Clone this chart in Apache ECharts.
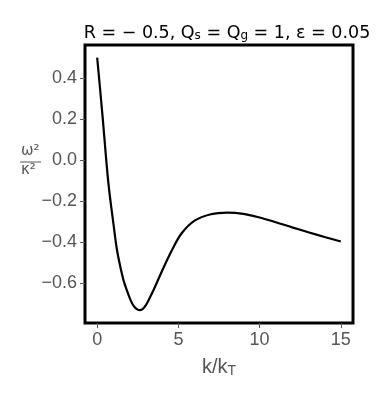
<!DOCTYPE html>
<html>
<head>
<meta charset="utf-8">
<script src="https://cdn.jsdelivr.net/npm/echarts@6/dist/echarts.min.js"></script>
<style>
html,body{margin:0;padding:0;background:#fff;}
#chart{width:379px;height:400px;}
</style>
</head>
<body>
<div id="chart"></div>
<script>
var kValues = [0, 0.33, 0.68, 1.0, 1.21, 1.45, 1.66, 2.0, 2.2, 2.4, 2.6, 2.8, 3.0, 3.2, 3.5, 4.0, 4.6, 5.2, 6.0, 7.0, 8.0, 9.0, 10.0, 11.0, 12.0, 13.0, 14.0, 15.0];
var omegaValues = [0.50, 0.215, -0.105, -0.31, -0.434, -0.53, -0.597, -0.672, -0.706, -0.725, -0.732, -0.727, -0.708, -0.678, -0.629, -0.54, -0.44, -0.357, -0.295, -0.264, -0.256, -0.262, -0.280, -0.303, -0.328, -0.352, -0.375, -0.397];
var xTicks = [0, 5, 10, 15];
var yTicks = [-0.6, -0.4, -0.2, 0.0, 0.2, 0.4];

var seriesData = kValues.map(function (k, i) { return [k, omegaValues[i]]; });

var chart = echarts.init(document.getElementById('chart'), null, {renderer: 'canvas'});
var gray = '#555555';
var option = {
  animation: false,
  backgroundColor: '#ffffff',
  title: {
    text: 'R = − 0.5, Q{sub|s} = Q{sub|g} = 1, ε = 0.05',
    left: 222,
    textAlign: 'center',
    top: 19,
    textStyle: {
      fontFamily: 'DejaVu Sans',
      fontSize: 17.5,
      fontWeight: 'normal',
      color: '#000',
      rich: {
        sub: {fontFamily: 'DejaVu Sans', fontSize: 12, verticalAlign: 'bottom', padding: [5, 0, 0, 0], color: '#000'}
      }
    }
  },
  grid: {
    left: 85, right: 26, top: 45, bottom: 77,
    show: true, borderColor: '#000', borderWidth: 3, backgroundColor: 'transparent'
  },
  xAxis: {
    type: 'value', min: -0.75, max: 15.75,
    splitLine: {show: false},
    axisLine: {show: false, onZero: false},
    axisTick: {show: true, customValues: xTicks, length: 5, lineStyle: {color: gray, width: 1}},
    axisLabel: {customValues: xTicks, margin: 8, color: gray, fontSize: 18, fontFamily: 'Liberation Sans',
      formatter: function (v) { return String(v).replace('-', '−'); }},
    name: 'k/k{sub|T}',
    nameLocation: 'middle',
    nameGap: 33,
    nameTextStyle: {color: gray, fontSize: 20, fontFamily: 'Liberation Sans',
      rich: {sub: {fontSize: 14, fontFamily: 'Liberation Sans', color: gray, verticalAlign: 'bottom', padding: [8, 0, 0, 0]}}}
  },
  yAxis: {
    type: 'value', min: -0.795, max: 0.562,
    splitLine: {show: false},
    axisLine: {show: false, onZero: false},
    axisTick: {show: true, customValues: yTicks, length: 5, lineStyle: {color: gray, width: 1}},
    axisLabel: {customValues: yTicks, margin: 8, color: gray, fontSize: 18, fontFamily: 'Liberation Sans',
      formatter: function (v) { return v.toFixed(1).replace('-', '−'); }}
  },
  graphic: [
    {type: 'text', left: 21, top: 144, style: {text: 'ω²', font: '15px "DejaVu Sans"', fill: gray}},
    {type: 'line', shape: {x1: 20, y1: 162, x2: 41, y2: 162}, style: {stroke: gray, lineWidth: 1}},
    {type: 'text', left: 21, top: 163, style: {text: 'κ²', font: '15px "DejaVu Sans"', fill: gray}}
  ],
  series: [{
    type: 'line',
    data: seriesData,
    showSymbol: false,
    smooth: 0.35,
    lineStyle: {color: '#000', width: 2.2},
    clip: true
  }]
};
chart.setOption(option);
</script>
</body>
</html>
